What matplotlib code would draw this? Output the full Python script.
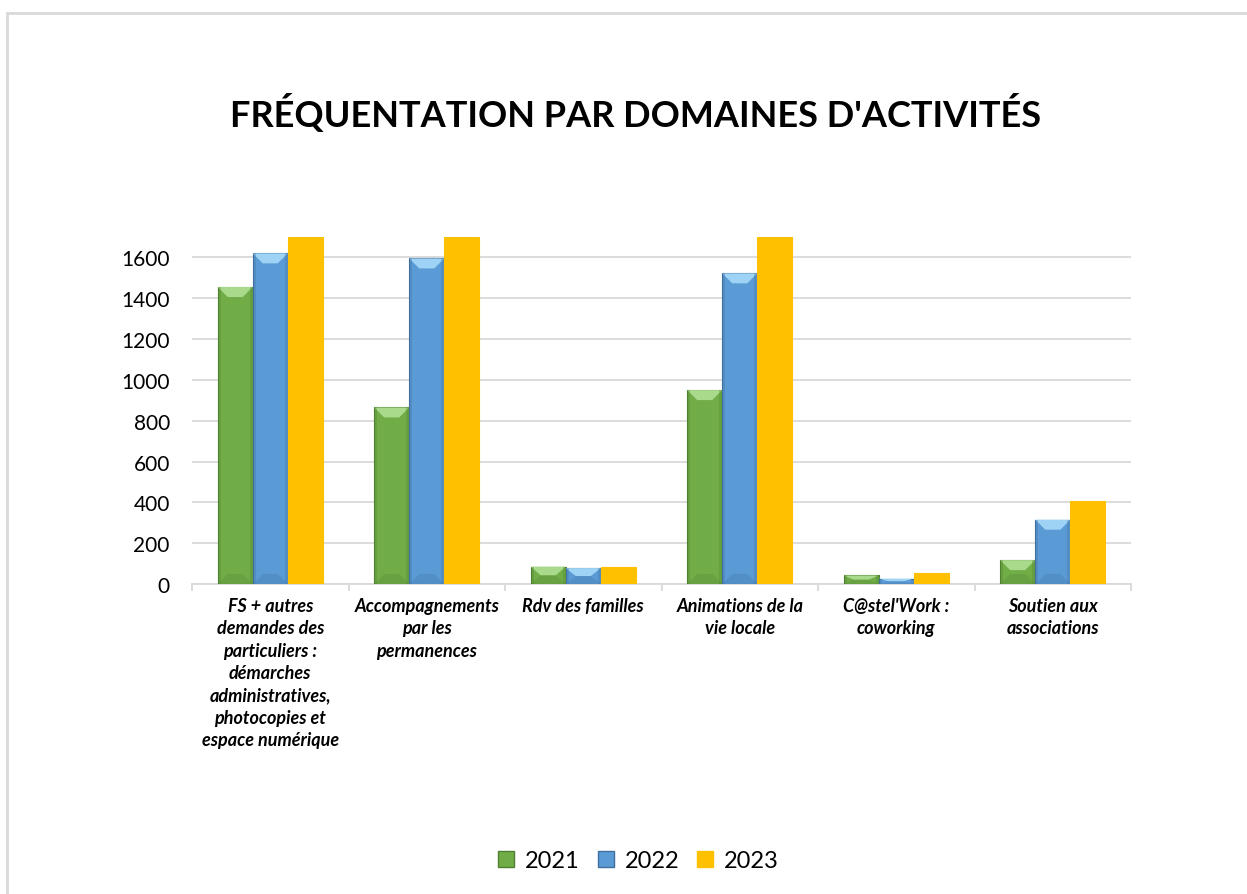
import numpy as np
import matplotlib.pyplot as plt
from matplotlib.patches import Rectangle, Polygon
from matplotlib.lines import Line2D

plt.rcParams['font.family'] = ['Lato', 'DejaVu Sans']

categories = [
    "FS + autres\ndemandes des\nparticuliers :\ndémarches\nadministratives,\nphotocopies et\nespace numérique",
    "Accompagnements\npar les\npermanences",
    "Rdv des familles",
    "Animations de la\nvie locale",
    "C@stel'Work :\ncoworking",
    "Soutien aux\nassociations",
]
years = ["2021", "2022", "2023"]
v2021 = [1455, 865, 85, 950, 42, 117]
v2022 = [1620, 1595, 78, 1522, 26, 315]
v2023 = [1700, 1700, 85, 1700, 52, 407]
yticks = [0, 200, 400, 600, 800, 1000, 1200, 1400, 1600]

# base, light (top bevel), dark (bottom bevel / edges)
styles = {
    "2021": ("#70ad47", "#a9d98a", "#4f7f30", True),
    "2022": ("#5b9bd5", "#9fd3f5", "#3f6f9f", True),
    "2023": ("#ffc000", "#ffc000", "#ffc000", False),
}

W, H = 1247, 895
fig = plt.figure(figsize=(W / 100, H / 100), dpi=100)
fig.patch.set_facecolor("white")

# chart area outline
fig.patches.append(Rectangle((7 / W, -0.1), 1.2, 1 - 14 / H + 0.1, transform=fig.transFigure,
                             fill=False, edgecolor="#d9d9d9", linewidth=2, zorder=0))

ax_l, ax_r, ax_b, ax_t = 192 / W, 1131 / W, 1 - 585 / H, 1 - 238 / H
ax = fig.add_axes([ax_l, ax_b, ax_r - ax_l, ax_t - ax_b])
ymax = 1700
ax.set_xlim(0, len(categories))
ax.set_ylim(0, ymax)

px_x = len(categories) / ((ax_r - ax_l) * W)
px_y = ymax / ((ax_t - ax_b) * H)

bw = 0.224
offsets = [-bw, 0, bw]
for series, vals, off in zip(years, [v2021, v2022, v2023], offsets):
    base, light, dark, bevel = styles[series]
    for i, v in enumerate(vals):
        x0 = i + 0.5 + off - bw / 2
        x1 = x0 + bw
        ax.add_patch(Rectangle((x0, 0), bw, v, facecolor=base,
                               edgecolor=dark if bevel else base, linewidth=0.8, zorder=3))
        if not bevel:
            continue
        h = min(10 * px_y, v / 2)
        b = min(10 * px_x, bw / 2)
        # top bevel
        ax.add_patch(Polygon([(x0, v), (x1, v), (x1 - b, v - h), (x0 + b, v - h)],
                             closed=True, facecolor=light, edgecolor="none", zorder=4))
        # bottom bevel
        ax.add_patch(Polygon([(x0, 0), (x1, 0), (x1 - b, h), (x0 + b, h)],
                             closed=True, facecolor=dark, edgecolor="none", alpha=0.25, zorder=4))
        # side edges
        for xs in ([x0, x0 + 3 * px_x], [x1 - 3 * px_x, x1]):
            ax.add_patch(Rectangle((xs[0], 0), xs[1] - xs[0], v, facecolor=dark,
                                   edgecolor="none", alpha=0.3, zorder=4))

ax.set_yticks(yticks)
ax.set_yticklabels([str(t) for t in yticks], fontsize=15)
ax.tick_params(axis="y", length=0, pad=16)
ax.yaxis.grid(True, color="#d9d9d9", linewidth=1.3)
ax.set_axisbelow(True)

ax.set_xticks(np.arange(len(categories) + 1))
ax.set_xticklabels([])
ax.tick_params(axis="x", length=5, color="#d9d9d9", width=1.3)
for i, lab in enumerate(categories):
    ax.text(i + 0.5, -13 * px_y, lab, ha="center", va="top",
            fontsize=13, fontweight="bold", fontstyle="italic", linespacing=1.38)

for s in ["left", "right", "top"]:
    ax.spines[s].set_visible(False)
ax.spines["bottom"].set_color("#d9d9d9")
ax.spines["bottom"].set_linewidth(1.3)

fig.text(636 / W, 1 - 113 / H, "FRÉQUENTATION PAR DOMAINES D'ACTIVITÉS", ha="center", va="center",
         fontsize=26, fontweight="bold")

handles = [Line2D([], [], marker="s", linestyle="none", markersize=11,
                  markerfacecolor=styles[y][0], markeredgecolor=styles[y][2]) for y in years]
fig.legend(handles, years, loc="center", bbox_to_anchor=(638 / W, 1 - 862 / H), ncol=3,
           frameon=False, fontsize=17, handlelength=0.8, handletextpad=0.4, columnspacing=0.7)

fig.savefig("out.png", dpi=100)
